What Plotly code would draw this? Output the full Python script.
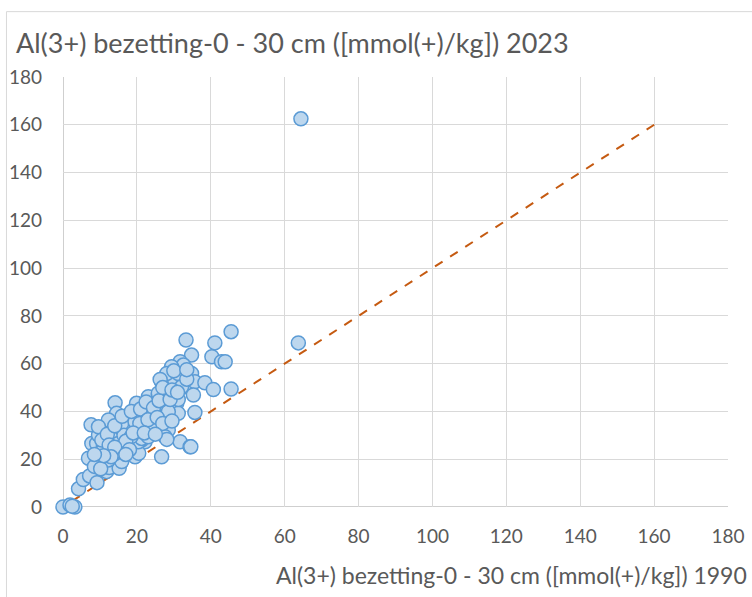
import plotly.graph_objects as go

# Al(3+) occupation, 0-30 cm layer, per site: 1990 vs 2023 (mmol(+)/kg)
al_1990 = [
    0, 1.9, 3.2, 2.5, 4.2, 5.5, 7.2, 9.2, 11.8, 12.5,
    15.6, 15.2, 15.9, 19.5, 6.9, 9.6, 10.5, 12.3, 8.5, 10.2,
    7.8, 9.1, 10.9, 13.2, 9.6, 7.6, 11.4, 15.0, 17.7, 20.8,
    22.2, 14.1, 15.9, 10.5, 20.5, 26.7, 14.1, 19.9, 23.1, 25.8,
    27.6, 30.8, 31.2, 26.7, 30.3, 33.0, 17.7, 14.5, 12.3, 15.9,
    19.5, 22.2, 24.4, 28.5, 27.6, 31.7, 9.6, 10.5, 13.2, 15.0,
    16.8, 21.3, 20.4, 34.4, 45.5, 33.3, 41.1, 34.8, 40.3, 42.9,
    43.9, 31.7, 32.6, 29.4, 28.1, 26.3, 31.2, 34.8, 32.1, 35.7,
    38.4, 40.7, 45.5, 25.8, 28.1, 35.3, 31.2, 35.7, 23.6, 28.5,
    20.8, 21.3, 23.1, 28.1, 63.7, 64.4,
    16.5, 18.5, 12.0, 14.0, 16.0, 18.5, 21.0, 22.5, 24.5, 26.0,
    29.0, 27.0, 29.5, 31.0, 33.5, 30.0, 33.5, 17.0, 19.0, 23.0,
    25.5, 27.0, 29.5, 12.5, 14.0, 18.0, 17.0, 13.0, 11.0, 8.5,
    22.0, 25.0, 34.6,
]
al_2023 = [
    0, 0.8, 0, 0.3, 7.6, 11.5, 13.0, 10.2, 14.8, 16.5,
    18.5, 16.2, 19.0, 21.0, 20.4, 19.0, 19.0, 19.7, 17.0, 16.0,
    26.6, 26.6, 25.2, 29.4, 30.1, 34.4, 32.2, 32.2, 32.9, 28.7,
    27.3, 22.4, 23.1, 23.1, 22.5, 21.0, 43.6, 43.4, 46.2, 46.9,
    42.7, 43.4, 39.2, 52.4, 52.4, 50.3, 37.1, 39.2, 36.4, 35.0,
    35.7, 33.6, 32.9, 32.2, 29.4, 27.3, 33.6, 28.0, 28.7, 26.6,
    25.2, 28.0, 27.3, 25.2, 73.4, 69.9, 68.7, 63.6, 62.9, 60.8,
    60.8, 60.8, 59.4, 58.7, 55.9, 53.4, 55.9, 55.9, 50.3, 52.4,
    52.0, 49.2, 49.4, 47.6, 48.2, 46.9, 45.0, 39.6, 42.7, 39.9,
    35.0, 28.7, 29.4, 28.3, 68.7, 162.5,
    30.0, 29.5, 30.5, 34.0, 38.0, 40.0, 41.0, 44.0, 41.5, 44.5,
    45.0, 50.0, 49.0, 48.0, 53.5, 57.0, 57.5, 27.5, 31.0, 36.5,
    37.5, 35.0, 36.0, 26.0, 25.0, 24.0, 22.0, 21.0, 21.5, 22.0,
    31.0, 30.5, 25.2,
]

# 1:1 reference line
ref_line = [2.5, 161]

axis_ticks = [0, 20, 40, 60, 80, 100, 120, 140, 160, 180]

title_text = "Al(3+) bezetting-0 - 30 cm ([mmol(+)/kg]) 2023"
x_title_text = "Al(3+) bezetting-0 - 30 cm ([mmol(+)/kg]) 1990"

FONT = "Lato"
TEXT_GREY = "#595959"
GRID = "#D9D9D9"

fig = go.Figure()

fig.add_trace(go.Scatter(
    x=ref_line, y=ref_line, mode="lines",
    line=dict(color="#C55A11", width=2, dash="dash"),
    hoverinfo="skip", showlegend=False,
))

fig.add_trace(go.Scatter(
    x=al_1990, y=al_2023, mode="markers", cliponaxis=False,
    marker=dict(size=14, color="#BDD7EE", line=dict(color="#5B9BD5", width=1.5)),
    showlegend=False,
))

axis_common = dict(
    range=[0, 180], tickvals=axis_ticks, showgrid=True, gridcolor=GRID,
    gridwidth=1, zeroline=False, showline=False, ticks="",
    tickfont=dict(family=FONT, size=19, color=TEXT_GREY),
    fixedrange=True, automargin=False,
)

fig.update_xaxes(**axis_common, ticklabelstandoff=16)
fig.update_yaxes(**axis_common, ticklabelstandoff=20)

# chart frame, left/bottom axis lines and titles
fig.add_shape(type="rect", xref="paper", yref="paper",
              x0=-0.085, y0=-0.3, x1=1.2, y1=1.152,
              line=dict(color=GRID, width=1), fillcolor="rgba(0,0,0,0)", layer="below")
fig.add_shape(type="line", xref="x", yref="y", x0=0, y0=0, x1=180, y1=0,
              line=dict(color="#BFBFBF", width=1.5), layer="below")
fig.add_shape(type="line", xref="x", yref="y", x0=0, y0=0, x1=0, y1=180,
              line=dict(color="#BFBFBF", width=1.5), layer="below")

fig.add_annotation(text=title_text, xref="paper", yref="paper",
                   x=-0.074, y=1.081, xanchor="left", yanchor="middle",
                   showarrow=False, font=dict(family=FONT, size=27, color="#595959"))
fig.add_annotation(text=x_title_text, xref="paper", yref="paper",
                   x=1.031, y=-0.158, xanchor="right", yanchor="middle",
                   showarrow=False, font=dict(family=FONT, size=23, color=TEXT_GREY))

fig.update_layout(
    width=752, height=597,
    margin=dict(l=63, r=24, t=77, b=90),
    paper_bgcolor="white", plot_bgcolor="white",
)

fig.write_html("out.html")
